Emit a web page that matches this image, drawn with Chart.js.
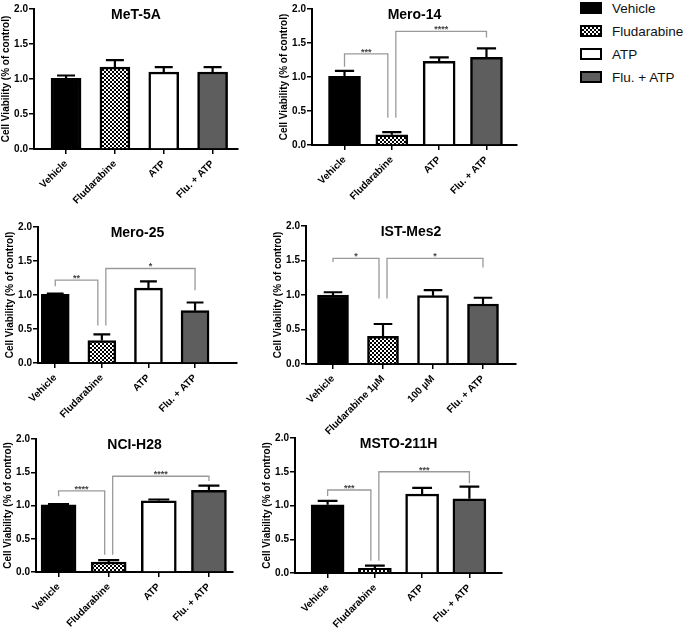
<!DOCTYPE html>
<html>
<head>
<meta charset="utf-8">
<script src="https://cdn.jsdelivr.net/npm/chart.js@4.4.1/dist/chart.umd.min.js"></script>
<style>
  html, body { margin: 0; padding: 0; background: #fff; }
  body { width: 684px; height: 629px; position: relative; overflow: hidden;
         font-family: "Liberation Sans", Arial, sans-serif; }
  canvas.panel { position: absolute; background: transparent; }
  #legend { position: absolute; left: 580px; top: 0; width: 104px; height: 90px; }
  .item { position: absolute; left: 0; height: 16px; display: flex; align-items: center;
          font-size: 13.5px; color: #111; white-space: nowrap; }
  .sw { width: 18px; height: 8px; border: 2px solid #000; margin-right: 10px; }
</style>
</head>
<body>
<div id="legend"></div>
<script>
// Datos
const categories = ['Vehicle', 'Fludarabine', 'ATP', 'Flu. + ATP'];
const categoriesIST = ['Vehicle', 'Fludarabine 1\u00b5M', '100 \u00b5M', 'Flu. + ATP'];
const cellLines = ['MeT-5A', 'Mero-14', 'Mero-25', 'IST-Mes2', 'NCI-H28', 'MSTO-211H'];
const yTicks = [0, 0.5, 1.0, 1.5, 2.0];

const met5aMeans = [1.01, 1.17, 1.10, 1.10];
const met5aErrors = [0.04, 0.10, 0.07, 0.07];
const mero14Means = [1.01, 0.15, 1.23, 1.29];
const mero14Errors = [0.08, 0.04, 0.06, 0.13];
const mero25Means = [1.01, 0.33, 1.10, 0.77];
const mero25Errors = [0.01, 0.09, 0.10, 0.12];
const istMes2Means = [1.00, 0.40, 0.99, 0.87];
const istMes2Errors = [0.04, 0.18, 0.08, 0.09];
const nciH28Means = [1.01, 0.15, 1.07, 1.23];
const nciH28Errors = [0.01, 0.03, 0.02, 0.07];
const msto211hMeans = [1.01, 0.07, 1.17, 1.10];
const msto211hErrors = [0.06, 0.04, 0.09, 0.18];

// [desde, hasta, altura, pata izquierda, pata derecha, etiqueta]
const met5aBrackets = [];
const mero14Brackets = [[0, 1, 1.34, 1.15, 0.40, '***'], [1, 3, 1.67, 0.40, 1.58, '****']];
const mero25Brackets = [[0, 1, 1.22, 1.13, 0.55, '**'], [1, 3, 1.39, 0.55, 1.07, '*']];
const istMes2Brackets = [[0, 1, 1.53, 1.48, 0.95, '*'], [1, 3, 1.53, 0.95, 1.40, '*']];
const nciH28Brackets = [[0, 1, 1.22, 1.14, 0.26, '****'], [1, 3, 1.44, 0.26, 1.37, '****']];
const msto211hBrackets = [[0, 1, 1.23, 1.14, 0.18, '***'], [1, 3, 1.50, 0.18, 1.33, '***']];

const panels = [
    { title: cellLines[0], labels: categories, means: met5aMeans, errors: met5aErrors, brackets: met5aBrackets },
    { title: cellLines[1], labels: categories, means: mero14Means, errors: mero14Errors, brackets: mero14Brackets },
    { title: cellLines[2], labels: categories, means: mero25Means, errors: mero25Errors, brackets: mero25Brackets },
    { title: cellLines[3], labels: categoriesIST, means: istMes2Means, errors: istMes2Errors, brackets: istMes2Brackets },
    { title: cellLines[4], labels: categories, means: nciH28Means, errors: nciH28Errors, brackets: nciH28Brackets },
    { title: cellLines[5], labels: categories, means: msto211hMeans, errors: msto211hErrors, brackets: msto211hBrackets }
];

// Posición de cada panel en la página (píxeles)
const panelLayout = [
    { axisX: 34, top: 9, bottom: 149, right: 238, xMin: -0.656, xMax: 3.52, bar: 30 },
    { axisX: 312, top: 9, bottom: 145, right: 517, xMin: -0.687, xMax: 3.645, bar: 32 },
    { axisX: 38, top: 227, bottom: 363, right: 237, xMin: -0.37, xMax: 3.9, bar: 28 },
    { axisX: 306, top: 226, bottom: 364, right: 516, xMin: -0.54, xMax: 3.66, bar: 31 },
    { axisX: 36, top: 439, bottom: 572, right: 233, xMin: -0.45, xMax: 3.48, bar: 35 },
    { axisX: 295, top: 438, bottom: 573, right: 502, xMin: -0.69, xMax: 3.69, bar: 33 }
];

const Y_W = 34, X_H = 90, PAD_T = 8, PAD_R = 6, PAD_B = 0;
const FONT = "'Liberation Sans', Arial, sans-serif";
Chart.defaults.font.family = FONT;
Chart.defaults.color = '#000';

const fillColors = ['#000000', null, '#ffffff', '#5e5e5e'];

function checkerPattern(ctx) {
    const c = document.createElement('canvas');
    c.width = 4; c.height = 4;
    const g = c.getContext('2d');
    g.fillStyle = '#000'; g.fillRect(0, 0, 4, 4);
    g.fillStyle = '#fff'; g.fillRect(0, 0, 2, 2); g.fillRect(2, 2, 2, 2);
    return ctx.createPattern(c, 'repeat');
}

const errorBarPlugin = {
    id: 'errorBars',
    afterDatasetsDraw(chart, args, opts) {
        const { ctx } = chart;
        const y = chart.scales.y;
        const meta = chart.getDatasetMeta(0);
        const ds = chart.data.datasets[0];
        ctx.save();
        ctx.strokeStyle = '#000';
        ctx.lineWidth = 2.2;
        meta.data.forEach((bar, i) => {
            const yTop = y.getPixelForValue(ds.data[i].y + opts.errors[i]);
            const cap = bar.width * 0.3;
            ctx.beginPath();
            ctx.moveTo(bar.x, bar.y);
            ctx.lineTo(bar.x, yTop);
            ctx.moveTo(bar.x - cap, yTop);
            ctx.lineTo(bar.x + cap, yTop);
            ctx.stroke();
        });
        ctx.restore();
    }
};

const bracketPlugin = {
    id: 'brackets',
    afterDatasetsDraw(chart, args, opts) {
        const items = opts.items || [];
        if (!items.length) return;
        const { ctx } = chart;
        const { x, y } = chart.scales;
        const shared = k => items.filter(b => b[0] === k || b[1] === k).length > 1;
        ctx.save();
        ctx.strokeStyle = '#9a9a9a';
        ctx.lineWidth = 1.3;
        ctx.fillStyle = '#444';
        ctx.font = 'bold 9px ' + FONT;
        ctx.textAlign = 'center';
        ctx.textBaseline = 'alphabetic';
        items.forEach(([i, j, top, lb, rb, label]) => {
            const x1 = x.getPixelForValue(i) + (shared(i) ? 4 : 0);
            const x2 = x.getPixelForValue(j) - (shared(j) ? 4 : 0);
            const yt = y.getPixelForValue(top);
            ctx.beginPath();
            ctx.moveTo(x1, y.getPixelForValue(lb));
            ctx.lineTo(x1, yt);
            ctx.lineTo(x2, yt);
            ctx.lineTo(x2, y.getPixelForValue(rb));
            ctx.stroke();
            ctx.fillText(label, (x1 + x2) / 2, yt + 1);
        });
        ctx.restore();
    }
};

const panelTitlePlugin = {
    id: 'panelTitle',
    afterDraw(chart, args, opts) {
        const { ctx, chartArea } = chart;
        ctx.save();
        ctx.fillStyle = '#000';
        ctx.font = 'bold 14px ' + FONT;
        ctx.textAlign = 'center';
        ctx.textBaseline = 'alphabetic';
        ctx.fillText(opts.text, (chartArea.left + chartArea.right) / 2, chartArea.top + 10);
        ctx.restore();
    }
};

function createPanel(panel, lay) {
    const canvas = document.createElement('canvas');
    canvas.className = 'panel';
    const left = lay.axisX - Y_W;
    const w = lay.right - left + PAD_R;
    const h = (lay.bottom - lay.top) + PAD_T + X_H + PAD_B;
    canvas.width = w; canvas.height = h;
    canvas.style.left = left + 'px';
    canvas.style.top = (lay.top - PAD_T) + 'px';
    canvas.style.width = w + 'px';
    canvas.style.height = h + 'px';
    document.body.appendChild(canvas);
    const ctx = canvas.getContext('2d');
    const colors = fillColors.map(c => c || checkerPattern(ctx));

    new Chart(ctx, {
        type: 'bar',
        data: {
            datasets: [{
                data: panel.means.map((v, i) => ({ x: i, y: v })),
                backgroundColor: colors,
                borderColor: '#000',
                borderWidth: 2.5,
                barThickness: lay.bar
            }]
        },
        plugins: [errorBarPlugin, bracketPlugin, panelTitlePlugin],
        options: {
            responsive: false,
            animation: false,
            devicePixelRatio: 1,
            layout: { padding: { top: PAD_T, left: 0, right: PAD_R, bottom: PAD_B } },
            plugins: {
                legend: { display: false },
                tooltip: { enabled: false },
                errorBars: { errors: panel.errors },
                brackets: { items: panel.brackets },
                panelTitle: { text: panel.title }
            },
            scales: {
                x: {
                    type: 'linear',
                    min: lay.xMin,
                    max: lay.xMax,
                    offset: false,
                    afterBuildTicks: s => { s.ticks = panel.labels.map((l, i) => ({ value: i })); },
                    afterFit: s => { s.height = X_H; },
                    border: { color: '#000', width: 2 },
                    grid: { display: true, drawOnChartArea: false, offset: false, color: '#000', lineWidth: 1.5, tickLength: 5 },
                    ticks: {
                        autoSkip: false,
                        minRotation: 45,
                        maxRotation: 45,
                        padding: 4,
                        color: '#000',
                        font: { size: 10, weight: 'bold' },
                        callback: v => panel.labels[v]
                    }
                },
                y: {
                    min: 0,
                    max: 2,
                    afterBuildTicks: s => { s.ticks = yTicks.map(v => ({ value: v })); },
                    afterFit: s => { s.width = Y_W; },
                    border: { color: '#000', width: 2 },
                    grid: { display: true, drawOnChartArea: false, color: '#000', lineWidth: 1.5, tickLength: 5 },
                    ticks: {
                        padding: 1,
                        color: '#000',
                        font: { size: 10, weight: 'bold' },
                        callback: v => Number(v).toFixed(1)
                    },
                    title: {
                        display: true,
                        text: 'Cell Viability (% of control)',
                        color: '#000',
                        font: { size: 10, weight: 'bold' },
                        padding: 0
                    }
                }
            }
        }
    });
}

panels.forEach((p, i) => createPanel(p, panelLayout[i]));

// Leyenda común
const legendRows = [8, 31, 54, 77];
const swatchCss = [
    'background:#000',
    'background:repeating-conic-gradient(#000 0 25%, #fff 0 50%) 0 0/4px 4px',
    'background:#fff',
    'background:#5e5e5e'
];
const legend = document.getElementById('legend');
categories.forEach((name, i) => {
    const item = document.createElement('div');
    item.className = 'item';
    item.style.top = (legendRows[i] - 8) + 'px';
    item.innerHTML = '<span class="sw" style="' + swatchCss[i] + '"></span><span>' + name + '</span>';
    legend.appendChild(item);
});
</script>
</body>
</html>
